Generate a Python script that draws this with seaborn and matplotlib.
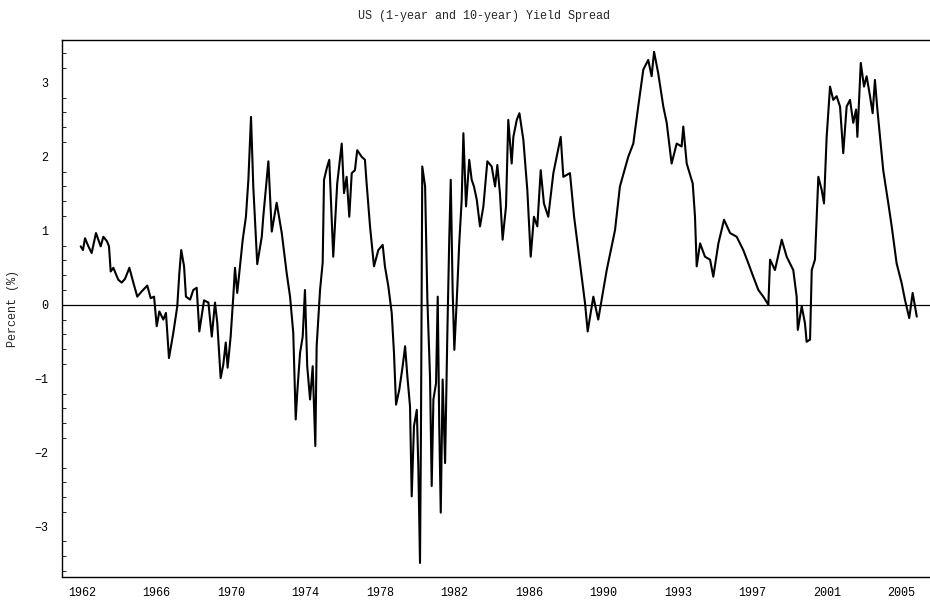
import numpy as np
import pandas as pd
import matplotlib
matplotlib.use("Agg")
import matplotlib.pyplot as plt
import seaborn as sns
from matplotlib.ticker import MultipleLocator

# 数据：读自原图 (年份, 利差 %)
years = [
    1962.00, 1962.12, 1962.23, 1962.39, 1962.58, 1962.81, 1963.06, 1963.20, 1963.39, 1963.50,
    1963.59, 1963.73, 1963.99, 1964.17, 1964.35, 1964.58, 1964.79, 1965.00, 1965.23, 1965.53,
    1965.71, 1965.89, 1966.03, 1966.17, 1966.38, 1966.52, 1966.68, 1966.91, 1967.12, 1967.23,
    1967.33, 1967.48, 1967.58, 1967.80, 1967.97, 1968.15, 1968.29, 1968.54, 1968.77, 1968.95,
    1969.12, 1969.24, 1969.42, 1969.56, 1969.69, 1969.79, 1969.95, 1970.09, 1970.18, 1970.30,
    1970.59, 1970.76, 1970.89, 1971.03, 1971.15, 1971.36, 1971.60, 1971.68, 1971.95, 1972.13,
    1972.39, 1972.66, 1972.92, 1973.10, 1973.27, 1973.40, 1973.48, 1973.63, 1973.77, 1973.89,
    1974.01, 1974.16, 1974.30, 1974.44, 1974.51, 1974.69, 1974.83, 1974.90, 1975.07, 1975.18,
    1975.39, 1975.60, 1975.84, 1975.96, 1976.10, 1976.24, 1976.37, 1976.54, 1976.66, 1976.90,
    1977.07, 1977.16, 1977.34, 1977.55, 1977.78, 1978.01, 1978.13, 1978.31, 1978.49, 1978.61,
    1978.72, 1978.89, 1979.07, 1979.20, 1979.32, 1979.46, 1979.55, 1979.67, 1979.82, 1979.90,
    1979.99, 1980.04, 1980.11, 1980.26, 1980.38, 1980.52, 1980.61, 1980.70, 1980.84, 1980.93,
    1981.01, 1981.09, 1981.19, 1981.32, 1981.44, 1981.54, 1981.62, 1981.72, 1981.81, 1981.94,
    1982.07, 1982.20, 1982.29, 1982.43, 1982.60, 1982.73, 1982.85, 1983.00, 1983.17, 1983.35,
    1983.56, 1983.79, 1983.97, 1984.09, 1984.23, 1984.37, 1984.55, 1984.67, 1984.85, 1984.94,
    1985.12, 1985.26, 1985.47, 1985.68, 1985.86, 1986.03, 1986.21, 1986.39, 1986.56, 1986.79,
    1987.06, 1987.45, 1987.59, 1987.94, 1988.16, 1988.47, 1988.74, 1988.88, 1989.18, 1989.44,
    1989.89, 1990.33, 1990.59, 1991.03, 1991.30, 1991.56, 1991.83, 1992.09, 1992.27, 1992.40,
    1992.62, 1992.89, 1993.07, 1993.33, 1993.60, 1993.86, 1993.95, 1994.13, 1994.45, 1994.57,
    1994.66, 1994.84, 1995.10, 1995.37, 1995.54, 1995.81, 1996.11, 1996.43, 1996.78, 1997.13,
    1997.40, 1997.66, 1997.93, 1998.19, 1998.46, 1998.55, 1998.81, 1999.17, 1999.43, 1999.78,
    1999.96, 2000.02, 2000.23, 2000.40, 2000.49, 2000.67, 2000.76, 2000.93, 2001.11, 2001.29,
    2001.41, 2001.55, 2001.73, 2001.90, 2002.08, 2002.26, 2002.43, 2002.61, 2002.79, 2002.96,
    2003.11, 2003.18, 2003.36, 2003.53, 2003.67, 2003.85, 2003.99, 2004.11, 2004.24, 2004.55,
    2004.82, 2005.00, 2005.26, 2005.53, 2005.70, 2005.93, 2006.11, 2006.33,
]
spread = [
    0.79, 0.74, 0.90, 0.80, 0.70, 0.97, 0.79, 0.92, 0.86, 0.79,
    0.45, 0.50, 0.34, 0.30, 0.35, 0.50, 0.30, 0.11, 0.18, 0.26,
    0.09, 0.11, -0.29, -0.09, -0.20, -0.11, -0.72, -0.38, -0.02, 0.43,
    0.74, 0.52, 0.11, 0.07, 0.20, 0.23, -0.36, 0.06, 0.03, -0.43,
    0.03, -0.24, -0.99, -0.81, -0.51, -0.85, -0.43, 0.11, 0.50, 0.16,
    0.88, 1.19, 1.69, 2.54, 1.60, 0.55, 0.92, 1.19, 1.94, 0.99,
    1.38, 0.97, 0.43, 0.11, -0.38, -1.55, -1.19, -0.65, -0.43, 0.20,
    -0.83, -1.28, -0.83, -1.91, -0.56, 0.20, 0.57, 1.69, 1.87, 1.96,
    0.65, 1.64, 2.18, 1.51, 1.73, 1.19, 1.78, 1.82, 2.09, 2.00,
    1.96, 1.64, 1.06, 0.52, 0.74, 0.81, 0.52, 0.25, -0.11, -0.65,
    -1.35, -1.15, -0.83, -0.56, -0.97, -1.37, -2.59, -1.64, -1.42, -2.18,
    -3.49, -1.73, 1.87, 1.60, 0.07, -0.97, -2.45, -1.28, -1.06, 0.11,
    -1.64, -2.81, -1.01, -2.14, -0.38, 0.88, 1.69, 0.20, -0.61, 0.07,
    0.83, 1.42, 2.32, 1.33, 1.96, 1.69, 1.60, 1.42, 1.06, 1.33,
    1.94, 1.87, 1.60, 1.89, 1.50, 0.88, 1.33, 2.50, 1.91, 2.27,
    2.50, 2.59, 2.23, 1.55, 0.65, 1.19, 1.06, 1.82, 1.37, 1.19,
    1.78, 2.27, 1.73, 1.78, 1.19, 0.56, 0.02, -0.36, 0.11, -0.20,
    0.47, 1.01, 1.60, 2.00, 2.18, 2.68, 3.18, 3.31, 3.09, 3.42,
    3.13, 2.68, 2.46, 1.91, 2.18, 2.14, 2.41, 1.91, 1.64, 1.19,
    0.52, 0.83, 0.65, 0.61, 0.38, 0.83, 1.15, 0.97, 0.92, 0.74,
    0.56, 0.38, 0.20, 0.11, 0.00, 0.61, 0.47, 0.88, 0.65, 0.47,
    0.11, -0.34, -0.02, -0.25, -0.50, -0.47, 0.47, 0.61, 1.73, 1.55,
    1.37, 2.27, 2.95, 2.77, 2.82, 2.68, 2.05, 2.68, 2.77, 2.46,
    2.64, 2.27, 3.27, 2.95, 3.09, 2.82, 2.59, 3.04, 2.64, 1.82,
    1.37, 1.06, 0.56, 0.29, 0.07, -0.18, 0.16, -0.16,
]
tick_labels = ["1962", "1966", "1970", "1974", "1978", "1982",
               "1986", "1990", "1993", "1997", "2001", "2005"]

sns.set_theme(style="white")
plt.rcParams['font.family'] = ['Liberation Mono', 'DejaVu Sans Mono']


def main() -> None:
    df = pd.DataFrame({"year": years, "spread": spread})

    fig = plt.figure(figsize=(9.3, 6.05), dpi=100)
    ax = fig.add_axes([0.0667, 0.0463, 0.9333, 0.8876])

    sns.lineplot(data=df, x="year", y="spread", color="black", linewidth=1.5, ax=ax)
    ax.axhline(0, color="black", linewidth=0.9)

    ax.set_xlim(1961.01, 2007.03)
    ax.set_ylim(-3.68, 3.58)

    # 刻度：软件按等间距标注
    tick_pos = 1962.07 + 3.95 * np.arange(len(tick_labels))
    ax.set_xticks(tick_pos)
    ax.set_xticklabels(tick_labels)
    ax.yaxis.set_major_locator(MultipleLocator(1))
    ax.yaxis.set_minor_locator(MultipleLocator(0.2))
    ax.tick_params(axis="both", which="both", direction="in", colors="black",
                   labelsize=8.5)
    ax.tick_params(axis="both", which="major", length=5, width=0.8)
    ax.tick_params(axis="y", which="minor", length=3, width=0.6, left=True)
    ax.tick_params(axis="x", which="major", pad=7)
    ax.tick_params(axis="y", which="major", pad=10)

    for side in ["left", "bottom", "top"]:
        ax.spines[side].set_color("black")
        ax.spines[side].set_linewidth(1.0)
    ax.spines["right"].set_visible(False)

    ax.set_xlabel("")
    ax.set_ylabel("Percent (%)", fontsize=8.5)
    ax.yaxis.set_label_coords(-0.05, 0.5)
    fig.text(0.52, 0.973, "US (1-year and 10-year) Yield Spread",
             ha="center", va="center", fontsize=8.5)

    fig.savefig("out.png", dpi=100)


if __name__ == "__main__":
    main()
